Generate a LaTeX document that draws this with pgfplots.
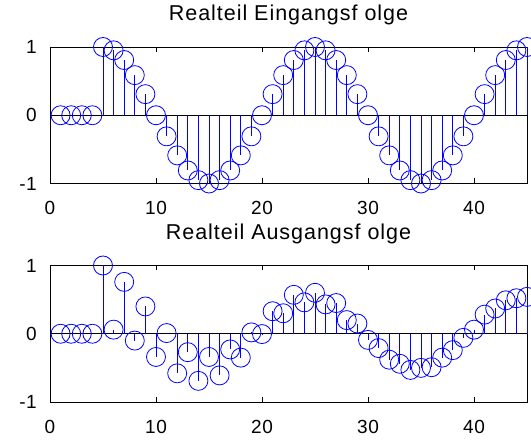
\documentclass[border=0pt]{standalone}
\usepackage{fontspec}
\setmainfont{Liberation Sans}
\usepackage{pgfplots}
\pgfplotsset{compat=1.18}

\definecolor{stemblue}{RGB}{0,0,255}

\pgfplotsset{
  stemaxis/.style={
    scale only axis, width=477bp, height=136.5bp,
    xmin=0, xmax=45, ymin=-1, ymax=1,
    xtick={0,10,20,30,40}, ytick={-1,0,1},
    tick align=inside, major tick length=5bp,
    axis line style={line width=0.8bp},
    every tick/.style={black, line width=0.6bp},
    /pgf/number format/assume math mode=true,
    ticklabel style={font=\fontsize{19bp}{22bp}\selectfont\addfontfeature{LetterSpace=3}, inner sep=0pt},
    xticklabel style={anchor=north, yshift=-18bp},
    yticklabel style={anchor=east, xshift=-13bp},
    title style={font=\fontsize{21.5bp}{24bp}\selectfont\addfontfeature{LetterSpace=4.5},
                 at={(0.5,1)}, anchor=base, yshift=20.3bp, inner sep=0pt},
    clip=false,
  },
  stems/.style={stemblue, line width=0.8bp, ycomb, mark=o, mark size=9.5bp,
    mark options={line width=0.8bp}},
  baseline/.style={black, line width=0.6bp, forget plot},
}

% Eingangsfolge x[n], n = 1..45
\pgfplotstableread{
n   x
1   0
2   0
3   0
4   0
5   1
6   0.9511
7   0.8090
8   0.5878
9   0.3090
10  0
11  -0.3090
12  -0.5878
13  -0.8090
14  -0.9511
15  -1
16  -0.9511
17  -0.8090
18  -0.5878
19  -0.3090
20  0
21  0.3090
22  0.5878
23  0.8090
24  0.9511
25  1
26  0.9511
27  0.8090
28  0.5878
29  0.3090
30  0
31  -0.3090
32  -0.5878
33  -0.8090
34  -0.9511
35  -1
36  -0.9511
37  -0.8090
38  -0.5878
39  -0.3090
40  0
41  0.3090
42  0.5878
43  0.8090
44  0.9511
45  1
}\eingang

% Ausgangsfolge y[n], n = 1..45
\pgfplotstableread{
n   y
1   0
2   0
3   0
4   0
5   1.00
6   0.06
7   0.76
8   -0.10
9   0.40
10  -0.34
11  0.01
12  -0.58
13  -0.27
14  -0.69
15  -0.34
16  -0.61
17  -0.23
18  -0.35
19  0.02
20  -0.005
21  0.33
22  0.30
23  0.57
24  0.46
25  0.60
26  0.43
27  0.45
28  0.20
29  0.15
30  -0.09
31  -0.21
32  -0.38
33  -0.44
34  -0.53
35  -0.50
36  -0.49
37  -0.35
38  -0.24
39  -0.06
40  0.06
41  0.28
42  0.37
43  0.49
44  0.52
45  0.54
}\ausgang

\begin{document}
\begin{tikzpicture}
\useasboundingbox (0bp,0bp) rectangle (531bp,441bp);

\begin{axis}[stemaxis, at={(50bp,257.5bp)}, anchor=south west,
  title={Realteil Eingangsf olge}]
  \addplot[baseline] coordinates {(0,0) (45,0)};
  \addplot[stems] table[x=n, y=x] {\eingang};
\end{axis}

\begin{axis}[stemaxis, at={(50bp,39bp)}, anchor=south west,
  title={Realteil Ausgangsf olge}]
  \addplot[baseline] coordinates {(0,0) (45,0)};
  \addplot[stems] table[x=n, y=y] {\ausgang};
\end{axis}
\end{tikzpicture}
\end{document}
